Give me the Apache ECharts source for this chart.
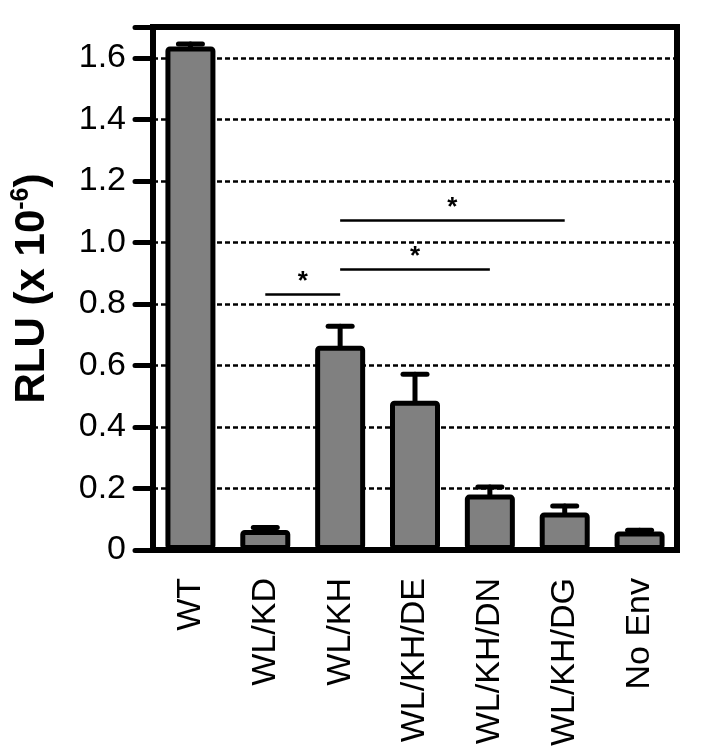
<!DOCTYPE html>
<html>
<head>
<meta charset="utf-8">
<script src="https://cdn.jsdelivr.net/npm/echarts@6/dist/echarts.min.js"></script>
<style>html,body{margin:0;padding:0;background:#fff;}#c{width:717px;height:750px;}</style>
</head>
<body>
<div id="c"></div>
<script>
var categories = ['WT', 'WL/KD', 'WL/KH', 'WL/KH/DE', 'WL/KH/DN', 'WL/KH/DG', 'No Env'];
var means = [1.637, 0.065, 0.664, 0.485, 0.180, 0.122, 0.060];
var errTops = [1.645, 0.073, 0.727, 0.571, 0.205, 0.143, 0.064];
var yTicks = [0, 0.2, 0.4, 0.6, 0.8, 1.0, 1.2, 1.4, 1.6];
var sigFrom = [1, 2, 2];
var sigTo = [2, 4, 5];
var sigY = [0.831, 0.912, 1.071];

var FONT = 'Liberation Sans, Arial, sans-serif';
var chart = echarts.init(document.getElementById('c'), null, {renderer: 'canvas'});

var errData = categories.map(function (c, i) { return [i, means[i], errTops[i]]; });
var markData = sigFrom.map(function (f, i) {
  return [{coord: [sigFrom[i], sigY[i]]}, {coord: [sigTo[i], sigY[i]]}];
});

chart.setOption({
  animation: false,
  grid: {left: 153, right: 40, top: 27, bottom: 200, show: true, borderColor: '#000', borderWidth: 6, backgroundColor: 'transparent'},
  xAxis: {
    type: 'category',
    data: categories,
    boundaryGap: true,
    axisLine: {lineStyle: {color: '#000', width: 6}},
    axisTick: {alignWithLabel: true, length: 18, lineStyle: {color: '#000', width: 5, cap: 'round'}},
    axisLabel: {rotate: 90, interval: 0, color: '#000', fontSize: 34, fontFamily: FONT, margin: 28}
  },
  yAxis: {
    type: 'value',
    min: 0,
    max: 1.7,
    interval: 0.2,
    name: '{a|RLU (x 10}{s|-6}{a|)}',
    nameLocation: 'middle',
    nameGap: 100,
    nameRotate: 90,
    nameTextStyle: {
      rich: {
        a: {fontSize: 42, fontWeight: 'bold', fontFamily: FONT, color: '#000', verticalAlign: 'bottom', lineHeight: 44},
        s: {fontSize: 25, fontWeight: 'bold', fontFamily: FONT, color: '#000', verticalAlign: 'top', lineHeight: 44, padding: [0, 0, 18, 0]}
      }
    },
    axisLine: {show: true, lineStyle: {color: '#000', width: 6}},
    axisTick: {show: true, length: 18, lineStyle: {color: '#000', width: 5, cap: 'round'}},
    axisLabel: {
      color: '#000', fontSize: 34, fontFamily: FONT, margin: 27,
      formatter: function (v) {
        var t = Math.round(v * 10) / 10;
        if (yTicks.indexOf(t) < 0 && Math.abs(t) > 1e-9) return '';
        return t === 0 ? '0' : t.toFixed(1);
      }
    },
    splitLine: {show: true, lineStyle: {color: '#000', width: 2.5, type: [5, 3]}}
  },
  series: [
    {
      type: 'bar',
      data: means,
      barWidth: 50,
      itemStyle: {color: '#808080', borderColor: '#000', borderWidth: 5, borderRadius: 2},
      z: 3,
      markLine: {
        silent: true,
        symbol: ['none', 'none'],
        lineStyle: {color: '#000', width: 2.5, type: 'solid'},
        label: {show: true, formatter: '*', position: 'insideMiddleTop', color: '#000', fontSize: 26, fontWeight: 'bold', fontFamily: FONT, distance: 0},
        data: markData
      }
    },
    {
      type: 'custom',
      data: errData,
      z: 4,
      renderItem: function (params, api) {
        var base = api.coord([api.value(0), api.value(1)]);
        var top = api.coord([api.value(0), api.value(2)]);
        var st = {stroke: '#000', lineWidth: 5, lineCap: 'round'};
        return {
          type: 'group',
          children: [
            {type: 'line', shape: {x1: base[0], y1: base[1], x2: top[0], y2: top[1]}, style: st},
            {type: 'line', shape: {x1: top[0] - 12, y1: top[1], x2: top[0] + 12, y2: top[1]}, style: st}
          ]
        };
      }
    }
  ]
});
</script>
</body>
</html>
